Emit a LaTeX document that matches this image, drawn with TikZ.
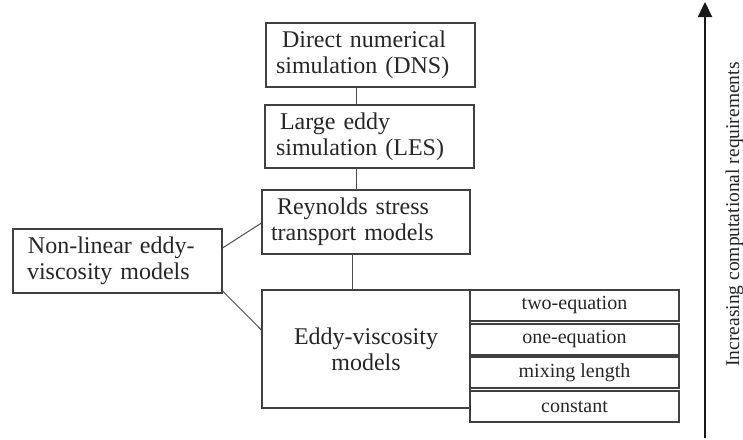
\documentclass[tikz,border=0pt]{standalone}
\usepackage{fontspec}
\setmainfont{Liberation Serif}
\usetikzlibrary{arrows.meta}
\begin{document}
\begin{tikzpicture}[x=1pt,y=-1pt,
  box/.style={draw=black!75, line width=1.1pt, rectangle, inner ysep=0pt, align=left,
    text=black!85, font=\fontsize{24}{26}\selectfont},
  cbox/.style={box, inner xsep=0pt, align=center},
  subbox/.style={draw=black!75, line width=1.1pt, rectangle, inner sep=0pt, align=center,
    text=black!85, font=\fontsize{20}{22}\selectfont, minimum width=209pt, minimum height=31pt},
  link/.style={draw=black!70, line width=1pt}]
\useasboundingbox (0,0) rectangle (743,439);
\node[box, inner xsep=10pt, text width=189pt, minimum height=64pt] (dns) at (370.5,55) {\hspace*{6pt}Direct numerical\\simulation (DNS)};
\node[box, inner xsep=11pt, text width=187pt, minimum height=63pt] (les) at (369.5,136.5) {\hspace*{4pt}Large eddy\\simulation (LES)};
\node[box, inner xsep=9pt, text width=190pt, minimum height=64pt] (rst) at (366,222) {\hspace*{6pt}Reynolds stress\\transport models};
\node[cbox, minimum width=208pt, minimum height=118pt] (eddy) at (366,349) {Eddy-viscosity\\models};
\node[box, inner xsep=14pt, text width=181pt, minimum height=64pt] (nl) at (117.5,261) {\hspace*{1pt}Non-linear eddy-\\viscosity models};
\node[subbox] (two) at (574.5,305.5) {two-equation};
\node[subbox] (one) at (574.5,339.5) {one-equation};
\node[subbox] (mix) at (574.5,372.5) {mixing length};
\node[subbox] (con) at (574.5,406.5) {constant};
\draw[link] ([xshift=-14.5pt]dns.south) -- ([xshift=-14.5pt]dns.south |- les.north);
\draw[link] ([xshift=-13.5pt]les.south) -- ([xshift=-13.5pt]les.south |- rst.north);
\draw[link] ([xshift=-14pt]rst.south) -- ([xshift=-14pt]rst.south |- eddy.north);
\draw[link] ([yshift=13pt]nl.east) -- ([yshift=-1pt]rst.west);
\draw[link] ([yshift=-30pt]nl.east) -- ([yshift=19pt]eddy.west);
\coordinate (abot) at (705,438);
\coordinate (atop) at (705,2);
\draw[line width=2pt, black!90, -{Triangle[length=15pt,width=14pt]}] (abot) -- (atop);
\node[rotate=90, anchor=base, text=black!85, font=\fontsize{19.5}{22}\selectfont, inner sep=0pt] (lbl) at (739,214.5) {Increasing computational requirements};
\end{tikzpicture}
\end{document}
